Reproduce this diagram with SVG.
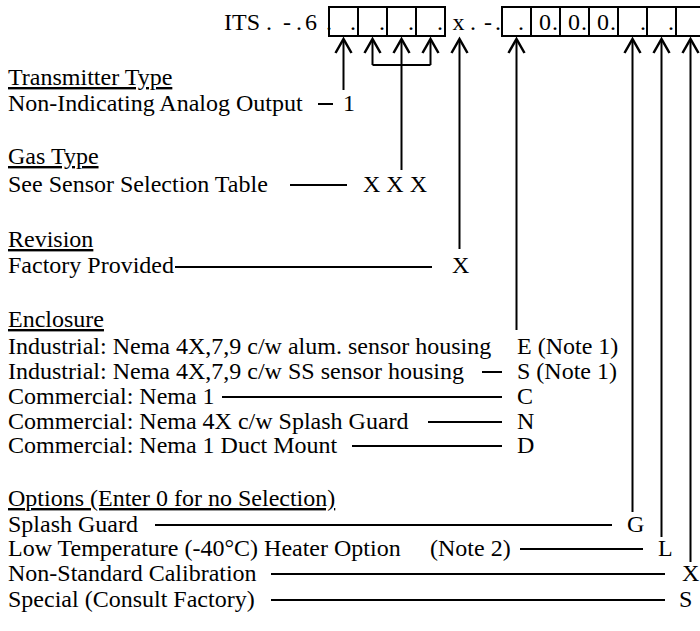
<svg xmlns="http://www.w3.org/2000/svg" width="700" height="631" viewBox="0 0 700 631">
<style>
text{font-family:"Liberation Serif","Times New Roman",serif;font-size:24px;fill:#000}
.ul{text-decoration:underline}
.dot{font-size:9px;fill:#cccccc}
.box{fill:none;stroke:#000;stroke-width:2}
.c{stroke:#000;stroke-width:2;fill:none}
.a{stroke:#000;stroke-width:2;fill:none;marker-start:url(#up)}
</style>
<defs>
<marker id="up" markerUnits="userSpaceOnUse" orient="auto-start-reverse" viewBox="-16 -10 18 20" markerWidth="18" markerHeight="20" refX="0" refY="0" overflow="visible">
<path d="M-14,-8 L0,0 L-14,8" fill="none" stroke="#000" stroke-width="2.5"/>
</marker>
</defs>
<rect width="700" height="631" fill="#fff"/>
<g id="code">
<text x="224" y="30">ITS</text>
<text x="283" y="30">-</text>
<text x="305" y="30">6</text>
<text x="452.5" y="30">x</text>
<text x="484" y="30">-</text>
<text x="539" y="30">0</text>
<text x="568" y="30">0</text>
<text x="597" y="30">0</text>
<g class="dot">
<text x="266" y="30">.</text><text x="296" y="30">.</text><text x="326" y="30">.</text>
<text x="350" y="30">.</text><text x="379" y="30">.</text><text x="408" y="30">.</text><text x="437" y="30">.</text>
<text x="470" y="30">.</text><text x="495" y="30">.</text><text x="518" y="30">.</text>
<text x="552" y="30">.</text><text x="581" y="30">.</text><text x="610" y="30">.</text>
<text x="640" y="30">.</text><text x="668" y="30">.</text>
</g>
<path class="box" d="M329,7H445V36H329Z M358,7V36 M387,7V36 M416,7V36"/>
<path class="box" d="M502,7H702V36H502Z M531,7V36 M560,7V36 M589,7V36 M618,7V36 M647,7V36 M676,7V36"/>
</g>
<g id="transmitter-type">
<text class="ul" x="8" y="85">Transmitter Type</text>
<text x="8" y="111">Non-Indicating Analog Output</text>
<text x="343" y="111">1</text>
</g>
<g id="gas-type">
<text class="ul" x="8" y="164">Gas Type</text>
<text x="8" y="192">See Sensor Selection Table</text>
<text x="363" y="192">X X X</text>
</g>
<g id="revision">
<text class="ul" x="8" y="247">Revision</text>
<text x="8" y="273">Factory Provided</text>
<text x="452" y="273">X</text>
</g>
<g id="enclosure">
<text class="ul" x="8" y="327">Enclosure</text>
<text x="8" y="354">Industrial: Nema 4X,7,9 c/w alum. sensor housing</text>
<text x="517" y="354">E (Note 1)</text>
<text x="8" y="379">Industrial: Nema 4X,7,9 c/w SS sensor housing</text>
<text x="517" y="379">S (Note 1)</text>
<text x="8" y="404">Commercial: Nema 1</text>
<text x="517" y="404">C</text>
<text x="8" y="429">Commercial: Nema 4X c/w Splash Guard</text>
<text x="517" y="429">N</text>
<text x="8" y="453">Commercial: Nema 1 Duct Mount</text>
<text x="517" y="453">D</text>
</g>
<g id="options">
<text class="ul" x="8" y="506">Options (Enter 0 for no Selection)</text>
<text x="8" y="532">Splash Guard</text>
<text x="627" y="532">G</text>
<text x="8" y="556">Low Temperature (-40°C) Heater Option</text>
<text x="430" y="556">(Note 2)</text>
<text x="658" y="556">L</text>
<text x="8" y="581">Non-Standard Calibration</text>
<text x="682" y="581">X</text>
<text x="8" y="607">Special (Consult Factory)</text>
<text x="679" y="607">S</text>
</g>
<g id="connectors">
<line class="a" x1="343.5" y1="39" x2="343.5" y2="90"/>
<line class="a" x1="372.5" y1="39" x2="372.5" y2="65"/>
<line class="a" x1="401.5" y1="39" x2="401.5" y2="170"/>
<line class="a" x1="430.5" y1="39" x2="430.5" y2="65"/>
<path class="c" d="M372.5,65H430.5"/>
<line class="a" x1="459.5" y1="39" x2="459.5" y2="249"/>
<line class="a" x1="516.5" y1="39" x2="516.5" y2="330"/>
<line class="a" x1="632.5" y1="39" x2="632.5" y2="512"/>
<line class="a" x1="661.5" y1="39" x2="661.5" y2="537"/>
<line class="a" x1="690.5" y1="39" x2="690.5" y2="562"/>
<path class="c" d="M318,104H333 M290,185H347 M175,267H432 M482,372H502 M222,397H502 M428,422H502 M352,446H502 M155,525H612 M520,549H643 M271,574H665 M271,600H665"/>
</g>
</svg>
